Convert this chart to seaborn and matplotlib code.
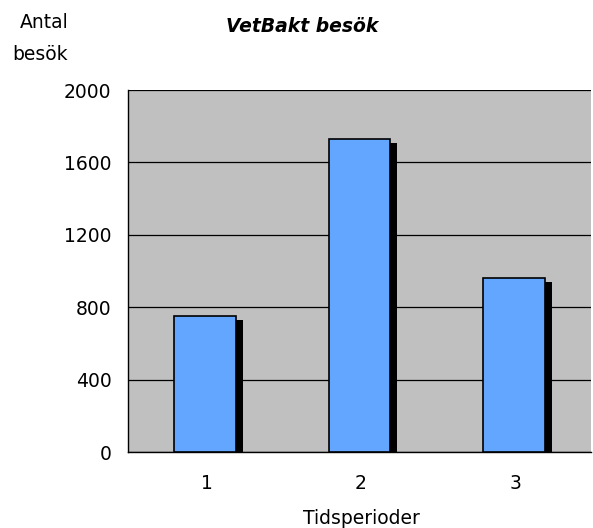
import matplotlib
matplotlib.use("Agg")
import matplotlib.pyplot as plt
import matplotlib.transforms as mtransforms
import seaborn as sns
import pandas as pd

periods = ["1", "2", "3"]
visits = [750, 1730, 960]
yticks = [0, 400, 800, 1200, 1600, 2000]

df = pd.DataFrame({"Tidsperioder": periods, "Antal": visits})

sns.set_theme(style="white")
plt.rcParams["font.family"] = ["DejaVu Sans"]

FS = 13.5

fig = plt.figure(figsize=(5.93, 5.28), dpi=100)
ax = fig.add_axes([128 / 593, 76 / 528, 463 / 593, 362 / 528])
ax.set_facecolor("#C0C0C0")

# shadow bars
sns.barplot(data=df, x="Tidsperioder", y="Antal", color="black", width=0.4,
            saturation=1, ax=ax, edgecolor="black", linewidth=0)
shadow_patches = list(ax.patches)
off = mtransforms.offset_copy(ax.transData, fig=fig, x=7, y=-4, units="dots")
for p in shadow_patches:
    p.set_transform(off)
    p.set_zorder(2)

# main bars
sns.barplot(data=df, x="Tidsperioder", y="Antal", color="#62A6FF", width=0.4,
            saturation=1, ax=ax, edgecolor="black", linewidth=1.2)
for p in ax.patches:
    if p not in shadow_patches:
        p.set_zorder(3)

ax.set_xlim(-0.5, 2.5)
ax.set_ylim(0, 2000)
ax.set_yticks(yticks)
ax.set_yticklabels([str(t) for t in yticks], fontsize=FS)
ax.yaxis.grid(True, color="black", linewidth=0.9)
ax.set_axisbelow(True)

# category labels between boundary ticks
ax.set_xticks([-0.5, 0.5, 1.5, 2.5])
ax.set_xticklabels([])
ax.set_xticks([0.01, 1.01, 2.01], minor=True)
ax.set_xticklabels(periods, minor=True, fontsize=FS)
ax.tick_params(axis="x", which="minor", length=0, pad=16)
ax.tick_params(axis="x", which="major", length=5, width=1, color="black", direction="out")
ax.tick_params(axis="y", length=5, width=1, color="black", direction="out", pad=7)
ax.tick_params(colors="black", which="both")

for s in ["top", "right"]:
    ax.spines[s].set_visible(False)
for s in ["left", "bottom"]:
    ax.spines[s].set_color("black")
    ax.spines[s].set_linewidth(1)

ax.set_xlabel("")
ax.set_ylabel("")

fig.text(302 / 593, 1 - 27 / 528, "VetBakt besök", ha="center", va="center",
         fontsize=FS, fontweight="bold", fontstyle="italic", color="black")
fig.text(44 / 593, 1 - 22 / 528, "Antal", ha="center", va="center",
         fontsize=FS, color="black")
fig.text(40 / 593, 1 - 55 / 528, "besök", ha="center", va="center",
         fontsize=FS, color="black")
fig.text(361 / 593, 1 - 518 / 528, "Tidsperioder", ha="center", va="center",
         fontsize=FS, color="black")

fig.savefig("out.png", dpi=100, facecolor="white")
